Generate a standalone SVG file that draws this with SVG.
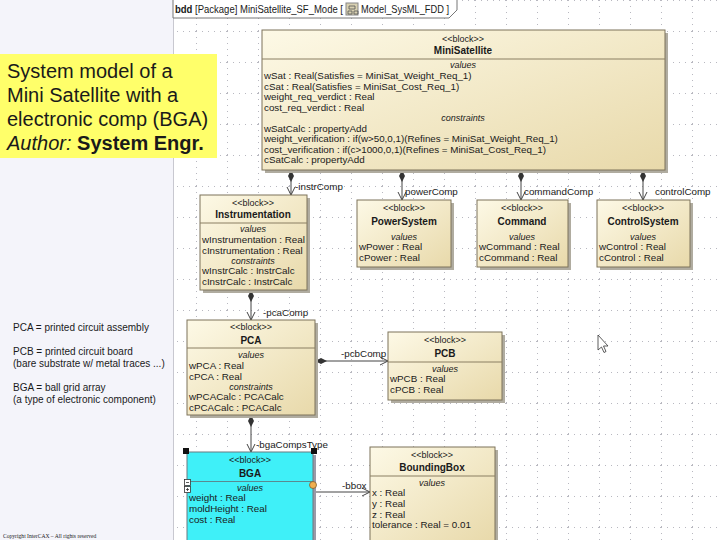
<svg xmlns="http://www.w3.org/2000/svg" width="720" height="540" viewBox="0 0 720 540">
<defs>
<linearGradient id="blk" x1="0" y1="0" x2="1" y2="1">
<stop offset="0" stop-color="#fdf9e6"/>
<stop offset="1" stop-color="#e8d9aa"/>
</linearGradient>
<pattern id="grid" x="10" y="0" width="31" height="31" patternUnits="userSpaceOnUse">
<line x1="0" y1="0.5" x2="31" y2="0.5" stroke="#b8b8c0" stroke-width="1" stroke-dasharray="1,5"/>
<line x1="0.5" y1="0" x2="0.5" y2="31" stroke="#b8b8c0" stroke-width="1" stroke-dasharray="1,5"/>
</pattern>
<marker id="dia" viewBox="0 -4 12 8" refX="0" refY="0" markerWidth="12" markerHeight="8" markerUnits="userSpaceOnUse" orient="auto">
<path d="M0,0 L6,-3 L12,0 L6,3 Z" fill="#333"/>
</marker>
<marker id="arr" viewBox="-9 -5 10 10" refX="0" refY="0" markerWidth="10" markerHeight="10" markerUnits="userSpaceOnUse" orient="auto">
<path d="M-8,-4 L0,0 L-8,4" fill="none" stroke="#444" stroke-width="1"/>
</marker>
</defs>
<style>
text{font-family:"Liberation Sans",Arial,sans-serif;fill:#1a1a1a}
.blk{fill:url(#blk);stroke:#7d735a;stroke-width:1}
.sh{fill:#b0aca0}
.sep{stroke:#8a7f62;stroke-width:1}
.st{font-size:9px;text-anchor:middle}
.nm{font-size:10px;font-weight:bold;text-anchor:middle}
.cmp{font-size:9px;font-style:italic;text-anchor:middle}
.at{font-size:9.8px}
.lbl{font-size:9.8px}
.con{fill:none;stroke:#444;stroke-width:1}
.note{font-size:20px}
.leg{font-size:10px}
</style>
<rect x="0" y="0" width="720" height="540" fill="#ffffff"/>
<rect x="0" y="0" width="174" height="540" fill="#f4f4fa"/>
<rect x="174" y="0" width="546" height="540" fill="url(#grid)"/>
<line x1="173.5" y1="0" x2="173.5" y2="540" stroke="#c8c8d0"/>

<g id="frame-header">
<path d="M173,0 V18 H449 L457,10 V0" fill="#ffffff" stroke="#777" stroke-width="1"/>
<text x="175" y="13" font-size="10.5px" textLength="168" lengthAdjust="spacingAndGlyphs"><tspan font-weight="bold">bdd</tspan> [Package] MiniSatellite_SF_Mode [</text>
<rect x="346" y="3" width="12" height="12" fill="#d8d0b0" stroke="#888"/>
<path d="M349,6 h6 v3 h-6 z M348,11 h4 v3 h-4z M354,11 h4 v3 h-4z" fill="none" stroke="#555" stroke-width="0.8"/>
<text x="361" y="13" font-size="10.5px" textLength="88" lengthAdjust="spacingAndGlyphs">Model_SysML_FDD ]</text>
</g>

<g id="title-note">
<rect x="0" y="54" width="217" height="104" fill="#ffff6a"/>
<text class="note" x="7" y="78">System model of a</text>
<text class="note" x="7" y="102">Mini Satellite with a</text>
<text class="note" x="7" y="126">electronic comp (BGA)</text>
<text class="note" x="7" y="150"><tspan font-style="italic">Author:</tspan> <tspan font-weight="bold">System Engr.</tspan></text>
</g>

<g id="legend">
<text class="leg" x="13" y="331">PCA = printed circuit assembly</text>
<text class="leg" x="13" y="355">PCB = printed circuit board</text>
<text class="leg" x="13" y="367">(bare substrate w/ metal traces ...)</text>
<text class="leg" x="13" y="391">BGA = ball grid array</text>
<text class="leg" x="13" y="403">(a type of electronic component)</text>
<text x="3" y="538" font-size="5.6px" style="font-family:'Liberation Serif',serif">Copyright InterCAX – All rights reserved</text>
</g>

<g id="connectors">
<path class="con" d="M291,170 V195" marker-start="url(#dia)" marker-end="url(#arr)"/>
<path class="con" d="M402,170 V200" marker-start="url(#dia)" marker-end="url(#arr)"/>
<path class="con" d="M521,170 V200" marker-start="url(#dia)" marker-end="url(#arr)"/>
<path class="con" d="M643,170 V200" marker-start="url(#dia)" marker-end="url(#arr)"/>
<path class="con" d="M251,290 V320" marker-start="url(#dia)" marker-end="url(#arr)"/>
<path class="con" d="M315,361 H388" marker-start="url(#dia)" marker-end="url(#arr)"/>
<path class="con" d="M251,415 V452" marker-start="url(#dia)" marker-end="url(#arr)"/>
<path class="con" d="M316,492 H370" marker-end="url(#arr)"/>
<text class="lbl" x="295" y="190">-instrComp</text>
<text class="lbl" x="405" y="195">powerComp</text>
<text class="lbl" x="524" y="195">commandComp</text>
<text class="lbl" x="655" y="195">controlComp</text>
<text class="lbl" x="263" y="316">-pcaComp</text>
<text class="lbl" x="341" y="357">-pcbComp</text>
<text class="lbl" x="256" y="448">-bgaCompsType</text>
<text class="lbl" x="342" y="489">-bbox</text>
</g>

<g id="MiniSatellite">
<rect class="sh" x="265" y="33" width="403" height="140"/>
<rect class="blk" x="262" y="30" width="403" height="140"/>
<text class="st" x="463" y="42">&lt;&lt;block&gt;&gt;</text>
<text class="nm" x="463" y="54">MiniSatellite</text>
<line class="sep" x1="262" y1="59" x2="665" y2="59"/>
<text class="cmp" x="463" y="68">values</text>
<text class="at" x="264" y="79">wSat : Real(Satisfies = MiniSat_Weight_Req_1)</text>
<text class="at" x="264" y="89.5">cSat : Real(Satisfies = MiniSat_Cost_Req_1)</text>
<text class="at" x="264" y="100">weight_req_verdict : Real</text>
<text class="at" x="264" y="110.5">cost_req_verdict : Real</text>
<text class="cmp" x="463" y="121">constraints</text>
<text class="at" x="264" y="131.5">wSatCalc : propertyAdd</text>
<text class="at" x="264" y="142">weight_verification : if(w&gt;50,0,1)(Refines = MiniSat_Weight_Req_1)</text>
<text class="at" x="264" y="152.5">cost_verification : if(c&gt;1000,0,1)(Refines = MiniSat_Cost_Req_1)</text>
<text class="at" x="264" y="163">cSatCalc : propertyAdd</text>
</g>

<g id="Instrumentation">
<rect class="sh" x="203" y="198" width="107" height="95"/>
<rect class="blk" x="200" y="195" width="107" height="95"/>
<text class="st" x="253" y="206">&lt;&lt;block&gt;&gt;</text>
<text class="nm" x="253" y="218">Instrumentation</text>
<line class="sep" x1="200" y1="223" x2="307" y2="223"/>
<text class="cmp" x="253" y="232">values</text>
<text class="at" x="202" y="243">wInstrumentation : Real</text>
<text class="at" x="202" y="254">cInstrumentation : Real</text>
<text class="cmp" x="253" y="264">constraints</text>
<text class="at" x="202" y="274">wInstrCalc : InstrCalc</text>
<text class="at" x="202" y="285">cInstrCalc : InstrCalc</text>
</g>

<g id="PowerSystem">
<rect class="sh" x="360" y="203" width="94" height="67"/>
<rect class="blk" x="357" y="200" width="94" height="67"/>
<text class="st" x="404" y="211">&lt;&lt;block&gt;&gt;</text>
<text class="nm" x="404" y="225">PowerSystem</text>
<text class="cmp" x="404" y="240">values</text>
<text class="at" x="359" y="250">wPower : Real</text>
<text class="at" x="359" y="261">cPower : Real</text>
</g>

<g id="Command">
<rect class="sh" x="480" y="203" width="91" height="67"/>
<rect class="blk" x="477" y="200" width="91" height="67"/>
<text class="st" x="522" y="211">&lt;&lt;block&gt;&gt;</text>
<text class="nm" x="522" y="225">Command</text>
<text class="cmp" x="522" y="240">values</text>
<text class="at" x="479" y="250">wCommand : Real</text>
<text class="at" x="479" y="261">cCommand : Real</text>
</g>

<g id="ControlSystem">
<rect class="sh" x="600" y="203" width="93" height="67"/>
<rect class="blk" x="597" y="200" width="93" height="67"/>
<text class="st" x="643" y="211">&lt;&lt;block&gt;&gt;</text>
<text class="nm" x="643" y="225">ControlSystem</text>
<text class="cmp" x="643" y="240">values</text>
<text class="at" x="599" y="250">wControl : Real</text>
<text class="at" x="599" y="261">cControl : Real</text>
</g>

<g id="PCA">
<rect class="sh" x="190" y="323" width="128" height="95"/>
<rect class="blk" x="187" y="320" width="128" height="95"/>
<text class="st" x="251" y="330">&lt;&lt;block&gt;&gt;</text>
<text class="nm" x="251" y="344">PCA</text>
<line class="sep" x1="187" y1="348" x2="315" y2="348"/>
<text class="cmp" x="251" y="358">values</text>
<text class="at" x="189" y="369">wPCA : Real</text>
<text class="at" x="189" y="380">cPCA : Real</text>
<text class="cmp" x="251" y="390">constraints</text>
<text class="at" x="189" y="400">wPCACalc : PCACalc</text>
<text class="at" x="189" y="411">cPCACalc : PCACalc</text>
</g>

<g id="PCB">
<rect class="sh" x="391" y="335" width="114" height="68"/>
<rect class="blk" x="388" y="332" width="114" height="68"/>
<text class="st" x="445" y="343">&lt;&lt;block&gt;&gt;</text>
<text class="nm" x="445" y="357">PCB</text>
<line class="sep" x1="388" y1="362" x2="502" y2="362"/>
<text class="cmp" x="445" y="372">values</text>
<text class="at" x="390" y="382">wPCB : Real</text>
<text class="at" x="390" y="393">cPCB : Real</text>
</g>

<g id="cursor">
<path d="M598,335 L598,350 L601.5,347 L604,352.5 L606,351.5 L603.5,346 L608,346 Z" fill="#ffffff" stroke="#333" stroke-width="0.8"/>
</g>

<g id="BGA">
<rect x="190" y="455" width="126" height="90" fill="#9a9aa8"/>
<rect x="187" y="452" width="126" height="92" fill="#3ff0f8" stroke="#6a7a80" stroke-width="1"/>
<text class="st" x="250" y="463">&lt;&lt;block&gt;&gt;</text>
<text class="nm" x="250" y="477">BGA</text>
<line x1="187" y1="481.5" x2="313" y2="481.5" stroke="#5a8a90"/>
<text class="cmp" x="250" y="491">values</text>
<text class="at" x="189" y="501">weight : Real</text>
<text class="at" x="189" y="512">moldHeight : Real</text>
<text class="at" x="189" y="523">cost : Real</text>
<rect x="183" y="448" width="6" height="6" fill="#111"/>
<rect x="311" y="448" width="6" height="6" fill="#111"/>
<rect x="184.5" y="479.5" width="6" height="6" fill="#fff" stroke="#333" stroke-width="0.8"/>
<line x1="186" y1="482.5" x2="189" y2="482.5" stroke="#333" stroke-width="0.8"/>
<rect x="184.5" y="486.5" width="6" height="6" fill="#fff" stroke="#333" stroke-width="0.8"/>
<path d="M186,489.5 H189 M187.5,488 V491" stroke="#333" stroke-width="0.8"/>
<circle cx="313" cy="485" r="3.5" fill="#f0b050" stroke="#806030" stroke-width="0.8"/>
</g>

<g id="BoundingBox">
<rect class="sh" x="373" y="450" width="125" height="95"/>
<rect class="blk" x="370" y="447" width="125" height="95"/>
<text class="st" x="432" y="458">&lt;&lt;block&gt;&gt;</text>
<text class="nm" x="432" y="471">BoundingBox</text>
<line class="sep" x1="370" y1="476" x2="495" y2="476"/>
<text class="cmp" x="432" y="486">values</text>
<text class="at" x="372" y="496">x : Real</text>
<text class="at" x="372" y="507">y : Real</text>
<text class="at" x="372" y="518">z : Real</text>
<text class="at" x="372" y="528">tolerance : Real = 0.01</text>
</g>
</svg>
